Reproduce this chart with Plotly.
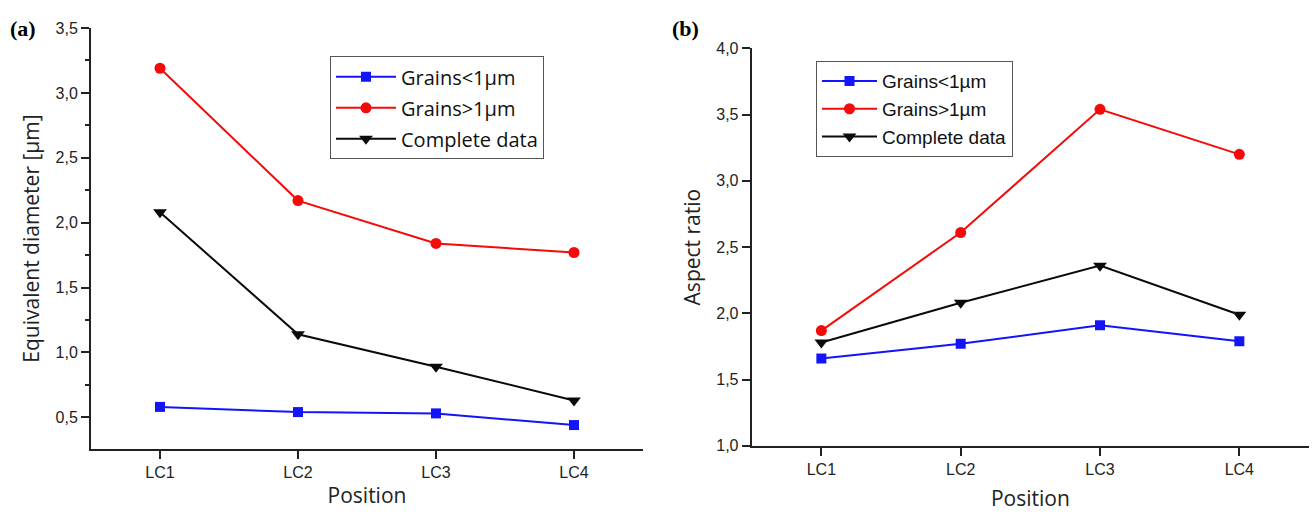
import plotly.graph_objects as go

positions = ["LC1", "LC2", "LC3", "LC4"]

# Panel (a): equivalent diameter [µm]
diam_small = [0.58, 0.54, 0.53, 0.44]
diam_large = [3.19, 2.17, 1.84, 1.77]
diam_all = [2.08, 1.14, 0.89, 0.63]

# Panel (b): aspect ratio
ar_small = [1.66, 1.77, 1.91, 1.79]
ar_large = [1.87, 2.61, 3.54, 3.20]
ar_all = [1.78, 2.08, 2.36, 1.99]

series_names = ["Grains<1µm", "Grains>1µm", "Complete data"]

ya_tickvals = [0.5, 1.0, 1.5, 2.0, 2.5, 3.0, 3.5]
ya_ticktext = ["0,5", "1,0", "1,5", "2,0", "2,5", "3,0", "3,5"]
ya_minor = [0.75, 1.25, 1.75, 2.25, 2.75, 3.25]
yb_tickvals = [1.0, 1.5, 2.0, 2.5, 3.0, 3.5, 4.0]
yb_ticktext = ["1,0", "1,5", "2,0", "2,5", "3,0", "3,5", "4,0"]

W, H = 1312, 519
BLUE = "rgb(20,20,250)"
RED = "rgb(245,10,10)"
BLACK = "rgb(10,10,10)"
colors = [BLUE, RED, BLACK]
symbols = ["square", "circle", "triangle-down"]
msizes = [10, 11, 12]

fig = go.Figure()
xidx = list(range(len(positions)))
for i, ys in enumerate([diam_small, diam_large, diam_all]):
    fig.add_trace(go.Scatter(
        x=xidx, y=ys, mode="lines+markers", name=series_names[i],
        line=dict(color=colors[i], width=2),
        marker=dict(symbol=symbols[i], size=msizes[i], color=colors[i]),
        xaxis="x", yaxis="y", legend="legend", legendgroup="a%d" % i,
    ))
for i, ys in enumerate([ar_small, ar_large, ar_all]):
    fig.add_trace(go.Scatter(
        x=xidx, y=ys, mode="lines+markers", name=series_names[i],
        line=dict(color=colors[i], width=2),
        marker=dict(symbol=symbols[i], size=msizes[i], color=colors[i]),
        xaxis="x2", yaxis="y2", legend="legend2", legendgroup="b%d" % i,
    ))

tickfont = dict(family="Liberation Sans, Arial, sans-serif", size=16, color="#222")
titlefont = dict(family="Open Sans, sans-serif", size=21, color="#222")
axcommon = dict(showline=True, linecolor="#222", linewidth=2, showgrid=False,
                zeroline=False, ticks="outside", tickcolor="#222", tickwidth=2,
                ticklen=8, tickfont=tickfont)

fig.update_layout(
    width=W, height=H,
    margin=dict(l=0, r=0, t=0, b=0),
    paper_bgcolor="white", plot_bgcolor="white",
    xaxis=dict(domain=[91 / W, 643 / W], range=[-0.5, 3.5],
               tickvals=xidx, ticktext=positions, anchor="y",
               title=dict(text="Position", font=titlefont, standoff=8), **axcommon),
    yaxis=dict(domain=[(H - 456) / H, (H - 20.7) / H], range=[0.255, 3.5],
               tickvals=ya_tickvals, ticktext=ya_ticktext, anchor="x",
               minor=dict(tickvals=ya_minor, ticks="outside", ticklen=4,
                          tickcolor="#222", tickwidth=2),
               title=dict(text="Equivalent diameter [µm]", font=titlefont, standoff=10),
               **axcommon),
    xaxis2=dict(domain=[751.7 / W, 1309 / W], range=[-0.5, 3.5],
                tickvals=xidx, ticktext=positions, anchor="y2",
                title=dict(text="Position", font=titlefont, standoff=14), **axcommon),
    yaxis2=dict(domain=[(H - 452.7) / H, (H - 41.7) / H], range=[1.0, 4.0],
                tickvals=yb_tickvals, ticktext=yb_ticktext, anchor="x2",
                title=dict(text="Aspect ratio", font=titlefont, standoff=10),
                **axcommon),
    legend=dict(x=330 / W, y=1 - 50 / H, xanchor="left", yanchor="top",
                bgcolor="white", bordercolor="#555", borderwidth=1,
                font=dict(family="Open Sans, sans-serif", size=20, color="#111"),
                tracegroupgap=2, itemwidth=60),
    legend2=dict(x=816 / W, y=1 - 55 / H, xanchor="left", yanchor="top",
                 bgcolor="white", bordercolor="#555", borderwidth=1,
                 font=dict(family="Liberation Sans, Arial, sans-serif", size=19, color="#111"),
                 tracegroupgap=0, itemwidth=55),
    annotations=[
        dict(text="<b>(a)</b>", x=8 / W, y=1 - 6 / H, xref="paper", yref="paper",
             xanchor="left", yanchor="top", showarrow=False,
             font=dict(family="Liberation Serif, Times New Roman, serif", size=22, color="black")),
        dict(text="<b>(b)</b>", x=670 / W, y=1 - 6 / H, xref="paper", yref="paper",
             xanchor="left", yanchor="top", showarrow=False,
             font=dict(family="Liberation Serif, Times New Roman, serif", size=22, color="black")),
    ],
)

fig.write_html("out.html",
               post_script="document.body.style.margin='0';document.body.style.overflow='hidden';")
